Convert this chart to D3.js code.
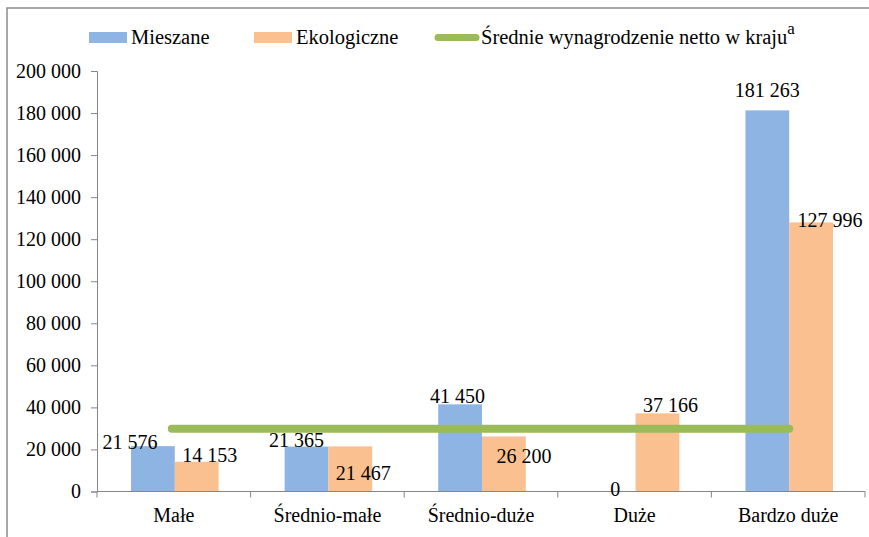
<!DOCTYPE html>
<html><head><meta charset="utf-8">
<script src="https://cdn.jsdelivr.net/npm/d3@7"></script>
<style>body{margin:0;background:#fff}svg{display:block}svg text{font-family:"Liberation Serif","Times New Roman",serif;fill:#000}</style>
</head><body><svg id="c" width="869" height="537"></svg>
<script>
const categories = ["Małe","Średnio-małe","Średnio-duże","Duże","Bardzo duże"];
const seriesNames = ["Mieszane","Ekologiczne"];
const mieszane = [21576, 21365, 41450, 0, 181263];
const ekologiczne = [14153, 21467, 26200, 37166, 127996];
const sredniaKrajowa = 29900;
const avgLabel = "Średnie wynagrodzenie netto w kraju";
const yTicks = [0,20000,40000,60000,80000,100000,120000,140000,160000,180000,200000];

const colors = ["#8EB4E3","#FAC090"];
const green = "#9BBB59";
const FONT = "Liberation Serif, Times New Roman, serif";
// manual label nudges [dx from bar centre, dy of baseline from bar top]
const nudge = [
  [[-23,2.5],[13,0.7]],
  [[-10,0.7],[13,34]],
  [[-2.5,-1.3],[20,27]],
  [[1.6,4],[13,-1.3]],
  [[0,-13.7],[19,4.5]]
];

const svg = d3.select("#c").attr("font-family",FONT);
const fmt = v => d3.format(",")(v).replace(/,/g," ");
const pLeft=97, pRight=865, pTop=71, pBottom=491.5;
const x = d3.scaleBand().domain(categories).range([pLeft,pRight]);
const y = d3.scaleLinear().domain([0,200000]).range([pBottom,pTop]);
const inner = d3.scaleBand().domain(seriesNames).range([0,x.bandwidth()*0.57]);

// frame
svg.append("rect").attr("x",7).attr("y",8).attr("width",1000).attr("height",1000)
  .attr("fill","none").attr("stroke","#8c8c8c").attr("stroke-width",1.5);

// y axis
const yAxis = svg.append("g").attr("transform",`translate(${pLeft},0)`)
  .call(d3.axisLeft(y).tickValues(yTicks).tickFormat(fmt).tickSize(6).tickPadding(10))
  .attr("font-family",FONT);
yAxis.select(".domain").attr("stroke","#868686");
yAxis.selectAll(".tick line").attr("stroke","#868686");
yAxis.selectAll(".tick text").attr("font-size",20).attr("dy","0.3em");

// bars
const data = categories.map((c,i)=>({c, vals:[mieszane[i],ekologiczne[i]], i}));
const g = svg.append("g");
data.forEach(d=>{
  const x0 = x(d.c) + x.bandwidth()/2 - inner.range()[1]/2 + 1;
  d.vals.forEach((v,j)=>{
    const bx = x0 + inner(seriesNames[j]);
    g.append("rect").attr("x",bx).attr("y",y(v)).attr("width",inner.bandwidth())
      .attr("height",y(0)-y(v)).attr("fill",colors[j]);
  });
});

// x axis
svg.append("line").attr("x1",pLeft).attr("x2",pRight).attr("y1",pBottom).attr("y2",pBottom)
  .attr("stroke","#868686");
d3.range(categories.length+1).forEach(k=>{
  const tx = pLeft + k*x.step();
  svg.append("line").attr("x1",tx).attr("x2",tx).attr("y1",pBottom).attr("y2",pBottom+6).attr("stroke","#868686");
});
categories.forEach(c=>{
  svg.append("text").attr("x",x(c)+x.bandwidth()/2).attr("y",522).attr("text-anchor","middle")
    .attr("font-size",20).text(c);
});

// average line
svg.append("line")
  .attr("x1",x(categories[0])+x.bandwidth()/2-2).attr("x2",x(categories[4])+x.bandwidth()/2+1)
  .attr("y1",y(sredniaKrajowa)).attr("y2",y(sredniaKrajowa))
  .attr("stroke",green).attr("stroke-width",8).attr("stroke-linecap","round");

// data labels
data.forEach(d=>{
  const x0 = x(d.c) + x.bandwidth()/2 - inner.range()[1]/2 + 1;
  d.vals.forEach((v,j)=>{
    const cx = x0 + inner(seriesNames[j]) + inner.bandwidth()/2;
    const nd = nudge[d.i][j];
    svg.append("text").attr("x",cx+nd[0]).attr("y",y(v)+nd[1]).attr("text-anchor","middle")
      .attr("font-size",20).text(fmt(v));
  });
});

// legend
const lg = svg.append("g");
lg.append("rect").attr("x",89).attr("y",32).attr("width",38).attr("height",11).attr("fill",colors[0]);
lg.append("text").attr("x",131).attr("y",44).attr("font-size",20.5).text(seriesNames[0]);
lg.append("rect").attr("x",254).attr("y",32).attr("width",38).attr("height",11).attr("fill",colors[1]);
lg.append("text").attr("x",296).attr("y",44).attr("font-size",20.5).text(seriesNames[1]);
lg.append("line").attr("x1",438).attr("x2",476).attr("y1",37.5).attr("y2",37.5)
  .attr("stroke",green).attr("stroke-width",7).attr("stroke-linecap","round");
const t = lg.append("text").attr("x",481).attr("y",44).attr("font-size",20.5);
t.append("tspan").text(avgLabel);
t.append("tspan").attr("font-size",17).attr("dy",-10).text("a");
</script></body></html>
